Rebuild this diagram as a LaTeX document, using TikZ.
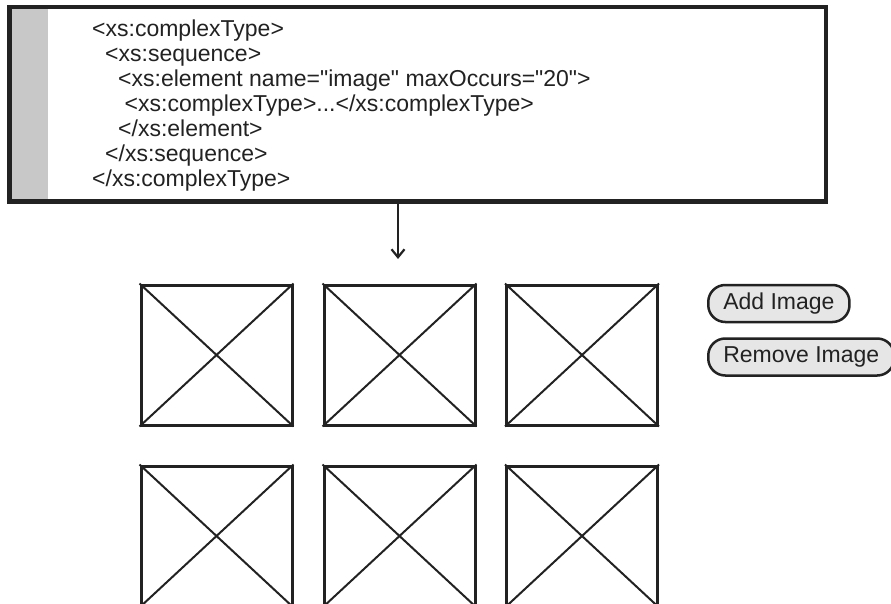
\documentclass[tikz,border=0pt]{standalone}
\usepackage{fontspec}
\setmainfont{Liberation Sans}
% same face without the TeX input mapping, so " stays a straight quote
\newfontfamily\codefont{Liberation Sans}
\usetikzlibrary{arrows.meta}
\definecolor{ink}{HTML}{222222}
\definecolor{strip}{HTML}{C8C8C8}
\definecolor{btnfill}{HTML}{E6E6E6}
\tikzset{
  codebox/.style={draw=ink, line width=3pt, fill=white, minimum width=815pt,
    minimum height=193pt, inner sep=0pt},
  codeline/.style={anchor=base west, inner sep=0pt, text=ink,
    font=\codefont\fontsize{23}{25}\selectfont},
  placeholder/.style={draw=ink, line width=3pt, minimum width=151pt,
    minimum height=140pt, inner sep=0pt},
  cross/.style={draw=ink, line width=2pt},
  flow/.style={draw=ink, line width=2.5pt, -{Straight Barb[length=8pt,width=13pt,line width=2.2pt]}},
  button/.style={draw=ink, line width=2.5pt, fill=btnfill, rounded corners=17pt,
    anchor=west, inner xsep=15pt, minimum height=37pt, text=ink,
    font=\codefont\fontsize{23}{25}\selectfont}
}
\begin{document}
\begin{tikzpicture}[x=1pt, y=-1pt]
  \useasboundingbox (0,0) rectangle (891,604);
  \clip (0,0) rectangle (891,604);

  % schema fragment box with its grey margin strip
  \node[codebox] (code) at (417.5,104.5) {};
  \fill[strip] (11.5,9.5) rectangle (48,199.5);
  \draw[ink, line width=3pt] (code.north west) rectangle (code.south east);

  \node[codeline] (l1) at (92,37)  {<xs:complexType>};
  \node[codeline] (l2) at (105,62) {<xs:sequence>};
  \node[codeline] (l3) at (118,87) {<xs:element name="image" maxOccurs="20">};
  \node[codeline] (l4) at (124.5,112) {<xs:complexType>...</xs:complexType>};
  \node[codeline] (l5) at (118,137) {</xs:element>};
  \node[codeline] (l6) at (105,162) {</xs:sequence>};
  \node[codeline] (l7) at (92,187) {</xs:complexType>};

  % arrow down to the generated form
  \coordinate (arrowend) at (398,259);
  \draw[flow] (code.south -| arrowend) -- (arrowend);

  % image placeholders, two rows of three
  \foreach \r/\y in {1/355, 2/536} {
    \foreach \c/\x in {1/216.5, 2/399.5, 3/582} {
      \node[placeholder] (img\r\c) at (\x,\y) {};
      \draw[cross] (img\r\c.north west) -- (img\r\c.south east);
      \draw[cross] (img\r\c.north east) -- (img\r\c.south west);
    }
  }

  % buttons
  \node[button] (add) at (707,303.5) {Add Image};
  \node[button] (remove) at (707,357) {Remove Image};
\end{tikzpicture}
\end{document}
